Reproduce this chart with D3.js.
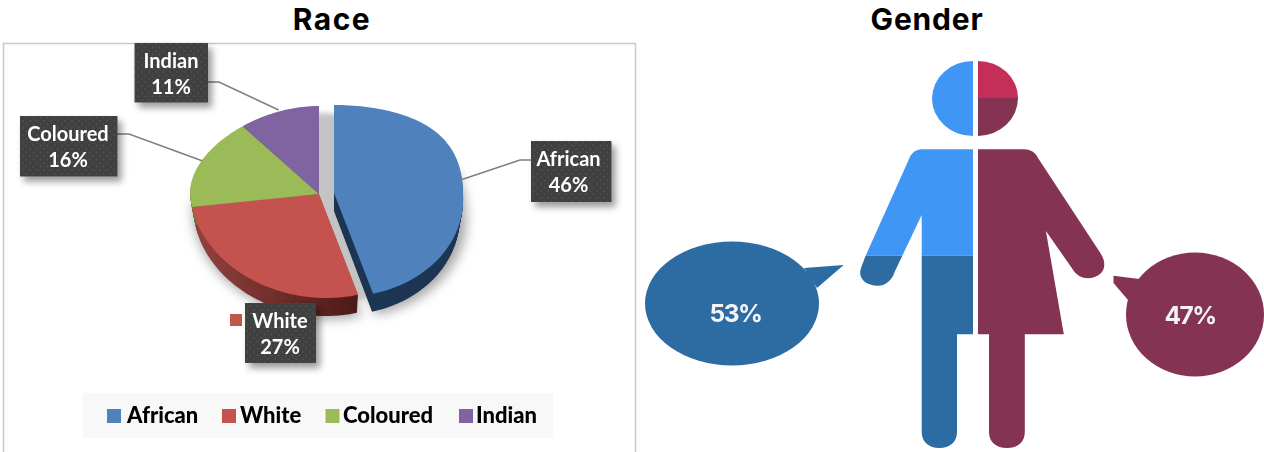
<!DOCTYPE html>
<html><head><meta charset="utf-8">
<script src="https://cdnjs.cloudflare.com/ajax/libs/d3/7.8.5/d3.min.js"></script>
<style>html,body{margin:0;background:#fff;overflow:hidden}svg{display:block}</style>
</head><body><svg id="c" width="1264" height="452"></svg>
<script>
const raceCategories = ["African","White","Coloured","Indian"];
const raceValues = [46,27,16,11];
const raceColors = ["#4f81bd","#c4524f","#9bbb59","#8064a2"];
const raceSideColors = ["#1c3553","#7a2f2d","#5f7a30","#5b4677"];
const genderCategories = ["Male","Female"];
const genderValues = [53,47];
const genderColors = ["#2d6ca2","#843352"];
const chartTitles = ["Race","Gender"];

const svg = d3.select("#c");
const FONT = "Lato, 'Open Sans', sans-serif";
const defs = svg.append("defs");
const pat = defs.append("pattern").attr("id","dots").attr("width",7).attr("height",7).attr("patternUnits","userSpaceOnUse");
pat.append("rect").attr("width",7).attr("height",7).attr("fill","#3f3f3f");
pat.append("circle").attr("cx",2).attr("cy",2).attr("r",0.9).attr("fill","#525252");
pat.append("circle").attr("cx",5.5).attr("cy",5.5).attr("r",0.9).attr("fill","#525252");
const fs = defs.append("filter").attr("id","boxShadow").attr("x","-30%").attr("y","-30%").attr("width","170%").attr("height","170%");
fs.append("feDropShadow").attr("dx",4).attr("dy",5).attr("stdDeviation",3.5).attr("flood-color","#000").attr("flood-opacity",.4);
const fb = defs.append("filter").attr("id","pieShadow").attr("x","-30%").attr("y","-30%").attr("width","160%").attr("height","160%");
fb.append("feGaussianBlur").attr("stdDeviation",6);
const fg = defs.append("filter").attr("id","gapShadow").attr("x","-30%").attr("y","-30%").attr("width","160%").attr("height","160%");
fg.append("feGaussianBlur").attr("stdDeviation",2.5);
const g1 = defs.append("linearGradient").attr("id","redSide").attr("x1",0).attr("x2",1).attr("y1",0).attr("y2",0);
g1.append("stop").attr("offset","0").attr("stop-color","#93413e");
g1.append("stop").attr("offset","1").attr("stop-color","#4c1a18");

// titles
svg.selectAll("text.title").data(chartTitles).join("text").attr("class","title")
  .attr("x",(d,i)=>[332,927][i]).attr("y",30).attr("text-anchor","middle")
  .attr("font-family","Inter,sans-serif").attr("font-weight",700).attr("font-size",30).attr("letter-spacing",(d,i)=>[1.5,.8][i]).attr("fill","#000").text(d=>d);

// frame (no bottom edge)
svg.append("path").attr("d","M3.5,452V43.5H635.5V452").attr("fill","none").attr("stroke","#c9c9c9").attr("stroke-width",1.5);

// pie
const cx=319, cy=194, RX=129, RT=88, RB=104, SKEW=.07, DEPTH=18;
const project=(a,r=1)=>{
  const c=Math.cos(a); let dx=r*RX*Math.sin(a);
  const dy=-r*c*(c>0?RT:RB);
  if(c>0) dx*= dx<0 ? 1-.12*c*c : 1+.2*c*c;
  return [cx+dx+(dy>0?SKEW*dy:0),cy+dy];};
const arcs=d3.pie().sort(null)(raceValues);
const line=d3.line();
const slicePts=d=>{const n=Math.ceil((d.endAngle-d.startAngle)*40);
  return [[cx,cy],...d3.range(n+1).map(i=>project(d.startAngle+(d.endAngle-d.startAngle)*i/n))];};
const offs=[[15,-1],[0,0],[0,0],[0,0]];
const pieG=svg.append("g");
// soft shadow
pieG.append("g").attr("filter","url(#pieShadow)").selectAll("path").data(arcs).join("path")
  .attr("d",d=>line(slicePts(d))).attr("transform",(d,i)=>`translate(${offs[i][0]+3},${offs[i][1]+DEPTH+3})`)
  .attr("fill","#a6a6a6");
// gap grey
pieG.append("path").attr("d",line(slicePts(arcs[0]))).attr("fill","#c4c4c4").attr("filter","url(#gapShadow)").attr("transform","translate(-4,7)");
// extrusion
arcs.forEach((d,i)=>{
  const g=pieG.append("g").attr("transform",`translate(${offs[i][0]},${offs[i][1]})`);
  g.selectAll("path").data(d3.range(1,DEPTH+1)).join("path").attr("d",line(slicePts(d)))
   .attr("transform",k=>`translate(${cx},${k}) scale(${1-.0015*k},1) translate(${-cx},0)`).attr("fill",i==1?"url(#redSide)":raceSideColors[i]);
});
// top faces
pieG.append("g").selectAll("path").data(arcs).join("path").attr("d",d=>line(slicePts(d)))
  .attr("transform",(d,i)=>`translate(${offs[i][0]},${offs[i][1]})`).attr("fill",(d,i)=>raceColors[i]);

// leader lines
const leaders=[[[460.5,180],[520,160],[531,160]],[[202,160.7],[129,134],[117,134]],[[278.7,110],[219,82],[208,82]]];
svg.append("g").selectAll("path").data(leaders).join("path").attr("d",d=>line(d)).attr("fill","none").attr("stroke","#7f7f7f").attr("stroke-width",1.5);

// labels
const boxes=[[531,141,80.5,61],[245,303,71,60],[20,116,97.5,60.5],[134.5,43,73.5,59.5]];
const labelCx=[568.5,280,68,171];
const lab=svg.append("g").selectAll("g").data(raceCategories).join("g");
lab.append("rect").attr("x",(d,i)=>boxes[i][0]).attr("y",(d,i)=>boxes[i][1]).attr("width",(d,i)=>boxes[i][2]).attr("height",(d,i)=>boxes[i][3]).attr("fill","url(#dots)").attr("filter","url(#boxShadow)");
lab.append("text").attr("x",(d,i)=>labelCx[i]).attr("y",(d,i)=>boxes[i][1]+25).attr("text-anchor","middle").attr("font-family",FONT).attr("font-weight",700).attr("font-size",20).attr("fill","#fff").text(d=>d);
lab.append("text").attr("x",(d,i)=>labelCx[i]).attr("y",(d,i)=>boxes[i][1]+51).attr("text-anchor","middle").attr("font-family",FONT).attr("font-weight",700).attr("font-size",20).attr("fill","#fff").text((d,i)=>raceValues[i]+"%");
svg.append("rect").attr("x",230).attr("y",314).attr("width",12).attr("height",12).attr("fill",raceColors[1]);

// legend
svg.append("rect").attr("x",83).attr("y",393).attr("width",470).attr("height",45).attr("fill","#f8f8f8");
const legSq=[107,222,325.5,459], legTx=[127,240,343,476];
const leg=svg.append("g").selectAll("g").data(raceCategories).join("g");
leg.append("rect").attr("x",(d,i)=>legSq[i]).attr("y",409).attr("width",14).attr("height",14).attr("fill",(d,i)=>raceColors[i]);
leg.append("text").attr("x",(d,i)=>legTx[i]).attr("y",423).attr("font-family",FONT).attr("font-weight",900).attr("font-size",22).attr("fill","#000").text(d=>d);

// person figure
const [M,F]=genderColors, BLUE="#4096f5", CRIM="#c42e58";
const fig=svg.append("g");
fig.append("path").attr("d","M973,61A41,37.5 0 0 0 973,136Z").attr("fill",BLUE);
fig.append("path").attr("d","M978,61A40,37 0 0 1 1018,98H978Z").attr("fill",CRIM);
fig.append("path").attr("d","M978,136A40,38 0 0 0 1018,98H978Z").attr("fill",F);
// male
const male="M973,149.3H922C916,149.3 911,153 908.6,160L865.6,255.7L861,268C857,280 868,286 878,285.7C886,285.5 892,280 894.7,271.7L921.7,215V432C921.7,442 929,448 939.3,448C950,448 957,442 957,432V334.3H973Z";
defs.append("clipPath").attr("id","mTop").append("rect").attr("x",850).attr("y",140).attr("width",130).attr("height",115.7);
defs.append("clipPath").attr("id","mBot").append("rect").attr("x",850).attr("y",255.7).attr("width",130).attr("height",200);
fig.append("path").attr("d",male).attr("fill",BLUE).attr("clip-path","url(#mTop)");
fig.append("path").attr("d",male).attr("fill",M).attr("clip-path","url(#mBot)");
// female
fig.append("path").attr("d","M978,149.3H1024C1030,149.3 1035,152 1038,158L1101,254C1106,262 1105,270 1100,274C1093,280 1079,281 1071.8,268L1045.9,231L1063.8,334.3H1024.8V432C1024.8,442 1018,448 1007,448C996,448 989,442 989,432V334.3H978Z").attr("fill",F);

// bubbles
const bub=[[732,303.5,87,62,"M804,268L843.7,265L817,288Z",735.5,322],[1195,314.5,69,62,"M1139.4,279L1113.5,275.7V283L1128,300Z",1190,324]];
const bg=svg.append("g").selectAll("g").data(genderValues).join("g");
bg.append("ellipse").attr("cx",(d,i)=>bub[i][0]).attr("cy",(d,i)=>bub[i][1]).attr("rx",(d,i)=>bub[i][2]).attr("ry",(d,i)=>bub[i][3]).attr("fill",(d,i)=>genderColors[i]);
bg.append("path").attr("d",(d,i)=>bub[i][4]).attr("fill",(d,i)=>genderColors[i]);
bg.append("text").attr("x",(d,i)=>bub[i][5]).attr("y",(d,i)=>bub[i][6]).attr("text-anchor","middle").attr("font-family","Inter,sans-serif").attr("font-weight",700).attr("font-size",24.5).attr("letter-spacing",-1.5).attr("fill","#f4f4f4").text(d=>d+"%");
</script></body></html>
